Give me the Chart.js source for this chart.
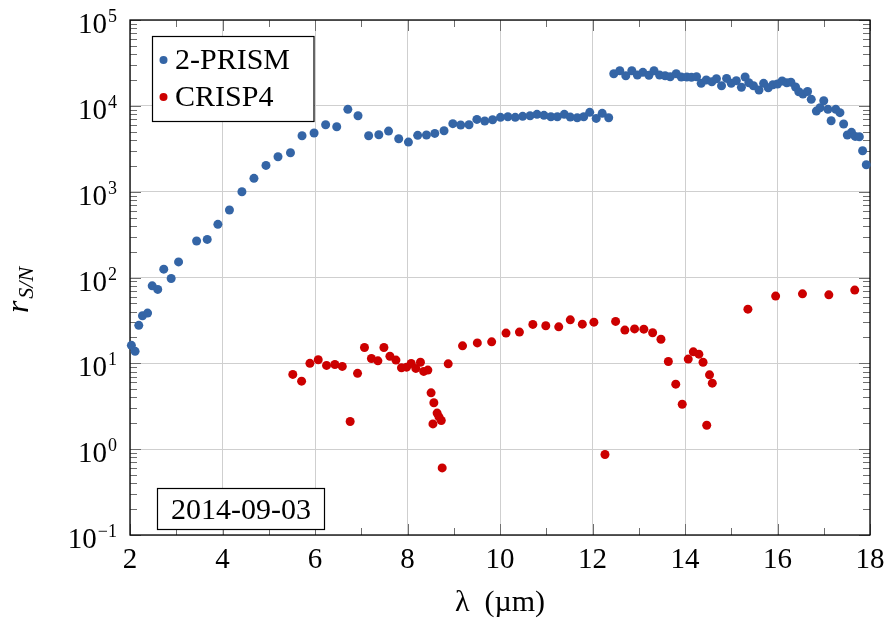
<!DOCTYPE html>
<html>
<head>
<meta charset="utf-8">
<script src="https://cdn.jsdelivr.net/npm/chart.js@4/dist/chart.umd.min.js"></script>
<style>
  html, body { margin: 0; padding: 0; background: #fff; }
  #c { display: block; }
</style>
</head>
<body>
<canvas id="c" width="889" height="621"></canvas>
<script>
// Signal-to-noise ratio vs. wavelength for the two instruments (2014-09-03)
const prismX = [
  2.03, 2.11, 2.19, 2.27, 2.38, 2.48, 2.60, 2.73, 2.89, 3.05,
  3.44, 3.67, 3.90, 4.15, 4.42, 4.68, 4.94, 5.20, 5.47, 5.72,
  5.98, 6.23, 6.47, 6.71, 6.93, 7.16, 7.38, 7.59, 7.81, 8.02,
  8.22, 8.41, 8.59, 8.79, 8.98, 9.15, 9.33, 9.50, 9.67, 9.84,
  10.01, 10.17, 10.33, 10.49, 10.65, 10.80, 10.95, 11.10, 11.24, 11.39,
  11.52, 11.67, 11.81, 11.94, 12.08, 12.21, 12.35,
  12.46, 12.59, 12.72, 12.85, 12.97, 13.09, 13.22, 13.33, 13.45, 13.57,
  13.68, 13.81, 13.92, 14.04, 14.14, 14.25, 14.35, 14.46, 14.58, 14.68,
  14.79, 14.90, 15.00, 15.11, 15.22, 15.30, 15.38, 15.48, 15.60, 15.70,
  15.80, 15.90, 16.00, 16.10, 16.20, 16.29, 16.39, 16.46, 16.55, 16.65,
  16.73, 16.84, 16.92, 17.00, 17.09, 17.16, 17.26, 17.35, 17.43, 17.51,
  17.60, 17.68, 17.77, 17.84, 17.92
];
const prismSN = [
  16.2, 13.8, 27.7, 35.8, 38.5, 80, 72.6, 125, 97.5, 152,
  266, 278, 416, 611, 998, 1429, 2024, 2553, 2838, 4487,
  4823, 6026, 5706, 9100, 7670, 4487, 4600, 5080, 4138, 3784,
  4530, 4570, 4776, 5128, 6194, 5976, 6026, 6950, 6651, 6890,
  7344, 7460, 7344, 7550, 7670, 7960, 7750, 7460, 7460, 7960,
  7400, 7260, 7460, 8400, 7140, 8180, 7260,
  23660, 25650, 22440, 25650, 22860, 24550, 22650, 25650, 22860, 22440,
  21830, 23660, 21680, 21680, 21500, 21830, 18280, 19990, 19090, 20700,
  17140, 20870, 18280, 19630, 16440, 21680, 18570, 17140, 15280, 18280,
  16260, 17620, 17950, 19450, 18570, 18870, 16560, 14590, 13740, 14670,
  11910, 8690, 9500, 11460, 9100, 6700, 9100, 8320, 6138, 4570,
  4910, 4407, 4360, 3000, 2060
];

const crispX = [
  5.52, 5.71, 5.89, 6.07, 6.25, 6.43, 6.59, 6.76, 6.92, 7.07,
  7.22, 7.36, 7.49, 7.62, 7.75, 7.87, 7.98, 8.08, 8.18, 8.28,
  8.35, 8.44, 8.51, 8.57, 8.55, 8.64, 8.68, 8.73, 8.75, 8.88,
  9.19, 9.51, 9.82, 10.13, 10.42, 10.71, 10.99, 11.27, 11.52, 11.78,
  12.03, 12.27, 12.50, 12.70, 12.91, 13.11, 13.30, 13.48, 13.64, 13.80,
  13.94, 14.07, 14.18, 14.30, 14.39, 14.47, 14.53, 14.59,
  15.36, 15.96, 16.54, 17.11, 17.67
];
const crispSN = [
  7.43, 6.2, 10.0, 11.0, 9.45, 9.7, 9.2, 2.1, 7.64, 15.3,
  11.4, 10.7, 15.3, 12.1, 10.9, 8.87, 9.03, 9.98, 8.72, 10.3,
  8.05, 8.34, 4.53, 3.47, 1.97, 2.63, 2.38, 2.16, 0.605, 9.87,
  16.0, 17.3, 17.8, 22.5, 23.1, 28.4, 27.4, 26.6, 32.1, 28.6,
  30.2, 0.867, 30.8, 24.4, 25.2, 25.0, 22.7, 19.1, 10.5, 5.72,
  3.34, 11.2, 13.6, 12.8, 10.3, 1.90, 7.35, 5.88,
  42.8, 60.7, 64.5, 62.8, 71.3
];

const xTicks = [2, 4, 6, 8, 10, 12, 14, 16, 18];
const yExponents = [-1, 0, 1, 2, 3, 4, 5];
const seriesNames = ['2-PRISM', 'CRISP4'];
const dateLabel = '2014-09-03';

const BLUE = '#3465a6';
const RED = '#cc0000';
const SERIF = '"Liberation Serif", "DejaVu Serif", serif';
const GRID = '#cfcfcf';

function pts(xs, ys) { return xs.map((x, i) => ({ x: x, y: ys[i] })); }

// Axis frame, tick marks and all axis text, drawn with the chart's own scales
const decorations = {
  id: 'decorations',
  beforeDatasetsDraw(chart) {
    const ctx = chart.ctx;
    const a = chart.chartArea;
    const xs = chart.scales.x, ys = chart.scales.y;
    ctx.save();
    ctx.lineWidth = 1;
    ctx.strokeStyle = '#6e6e6e';
    ctx.beginPath();
    // x ticks: major at even, minor at odd values (top and bottom, inward)
    for (let v = 2; v <= 18; v++) {
      const px = Math.round(xs.getPixelForValue(v)) + 0.5;
      const len = (v % 2 === 0) ? 11 : 7;
      ctx.moveTo(px, a.bottom); ctx.lineTo(px, a.bottom - len);
      ctx.moveTo(px, a.top); ctx.lineTo(px, a.top + len);
    }
    // y ticks: decades major, 2..9 minor (left and right, inward)
    for (let e = -1; e <= 5; e++) {
      for (let m = 1; m <= 9; m++) {
        const v = m * Math.pow(10, e);
        if (v > 1e5 * 1.0001) break;
        const py = Math.round(ys.getPixelForValue(v)) + 0.5;
        const len = (m === 1) ? 11 : 7;
        ctx.moveTo(a.left, py); ctx.lineTo(a.left + len, py);
        ctx.moveTo(a.right, py); ctx.lineTo(a.right - len, py);
      }
    }
    ctx.stroke();
    // frame
    ctx.strokeStyle = '#000';
    ctx.lineWidth = 1.3;
    ctx.strokeRect(a.left, a.top, a.right - a.left, a.bottom - a.top);
    ctx.restore();
  },
  afterDraw(chart) {
    const ctx = chart.ctx;
    const a = chart.chartArea;
    const xs = chart.scales.x, ys = chart.scales.y;
    ctx.save();
    ctx.fillStyle = '#000';

    // x tick labels
    ctx.font = '29px ' + SERIF;
    ctx.textAlign = 'center';
    ctx.textBaseline = 'alphabetic';
    xTicks.forEach(v => {
      ctx.fillText(String(v), xs.getPixelForValue(v), a.bottom + 33);
    });

    // y tick labels: 10 with a raised exponent
    yExponents.forEach(e => {
      const py = ys.getPixelForValue(Math.pow(10, e));
      const exp = e < 0 ? '\u2212' + Math.abs(e) : String(e);
      ctx.font = '18px ' + SERIF;
      const ew = ctx.measureText(exp).width;
      ctx.font = '29px ' + SERIF;
      const bw = ctx.measureText('10').width;
      const right = a.left - 13;
      ctx.textAlign = 'left';
      ctx.fillText('10', right - ew - 1 - bw, py + 13);
      ctx.font = '18px ' + SERIF;
      ctx.fillText(exp, right - ew, py + 2);
    });

    // x axis title
    ctx.font = '30px ' + SERIF;
    ctx.textAlign = 'center';
    ctx.fillText('\u03bb\u2002(\u00b5m)', (a.left + a.right) / 2, a.bottom + 76);

    // y axis title: r with subscript S/N, rotated
    ctx.save();
    ctx.translate(28, 290);
    ctx.rotate(-Math.PI / 2);
    ctx.font = 'italic 32px ' + SERIF;
    const rw = ctx.measureText('r').width;
    ctx.font = 'italic 22px ' + SERIF;
    const sw = ctx.measureText('S/N').width;
    const x0 = -(rw + 2 + sw) / 2;
    ctx.textAlign = 'left';
    ctx.font = 'italic 32px ' + SERIF;
    ctx.fillText('r', x0, 0);
    ctx.font = 'italic 22px ' + SERIF;
    ctx.fillText('S/N', x0 + rw + 2, 5);
    ctx.restore();

    // legend
    ctx.fillStyle = '#fff';
    ctx.fillRect(152.5, 36.5, 161.5, 85);
    ctx.strokeStyle = '#000';
    ctx.lineWidth = 1.2;
    ctx.strokeRect(152.5, 36.5, 161.5, 85);
    [[BLUE, 60, 69], [RED, 97, 106]].forEach((row, i) => {
      ctx.fillStyle = row[0];
      ctx.beginPath();
      ctx.arc(163.5, row[1], 4, 0, Math.PI * 2);
      ctx.fill();
      ctx.fillStyle = '#000';
      ctx.font = '30px ' + SERIF;
      ctx.textAlign = 'left';
      ctx.fillText(seriesNames[i], 175, row[2]);
    });

    // date box
    ctx.fillStyle = '#fff';
    ctx.fillRect(157.5, 488.5, 167, 41);
    ctx.strokeRect(157.5, 488.5, 167, 41);
    ctx.fillStyle = '#000';
    ctx.font = '30px ' + SERIF;
    ctx.textAlign = 'center';
    ctx.fillText(dateLabel, 241, 519);
    ctx.restore();
  }
};

new Chart(document.getElementById('c'), {
  type: 'scatter',
  data: {
    datasets: [
      {
        label: seriesNames[0],
        data: pts(prismX, prismSN),
        backgroundColor: BLUE,
        borderColor: BLUE,
        borderWidth: 0,
        pointRadius: 4.5,
        clip: false
      },
      {
        label: seriesNames[1],
        data: pts(crispX, crispSN),
        backgroundColor: RED,
        borderColor: RED,
        borderWidth: 0,
        pointRadius: 4.5,
        clip: false
      }
    ]
  },
  options: {
    responsive: false,
    animation: false,
    devicePixelRatio: 1,
    layout: { padding: { left: 130, top: 20, right: 19, bottom: 86 } },
    plugins: { legend: { display: false }, tooltip: { enabled: false } },
    scales: {
      x: {
        type: 'linear',
        min: 2, max: 18,
        ticks: { display: false, stepSize: 2 },
        grid: { color: GRID, lineWidth: 1, drawTicks: false },
        border: { display: false }
      },
      y: {
        type: 'logarithmic',
        min: 0.1, max: 1e5,
        afterBuildTicks: s => { s.ticks = yExponents.map(e => ({ value: Math.pow(10, e) })); },
        ticks: { display: false },
        grid: { color: GRID, lineWidth: 1, drawTicks: false },
        border: { display: false }
      }
    }
  },
  plugins: [decorations]
});
</script>
</body>
</html>
